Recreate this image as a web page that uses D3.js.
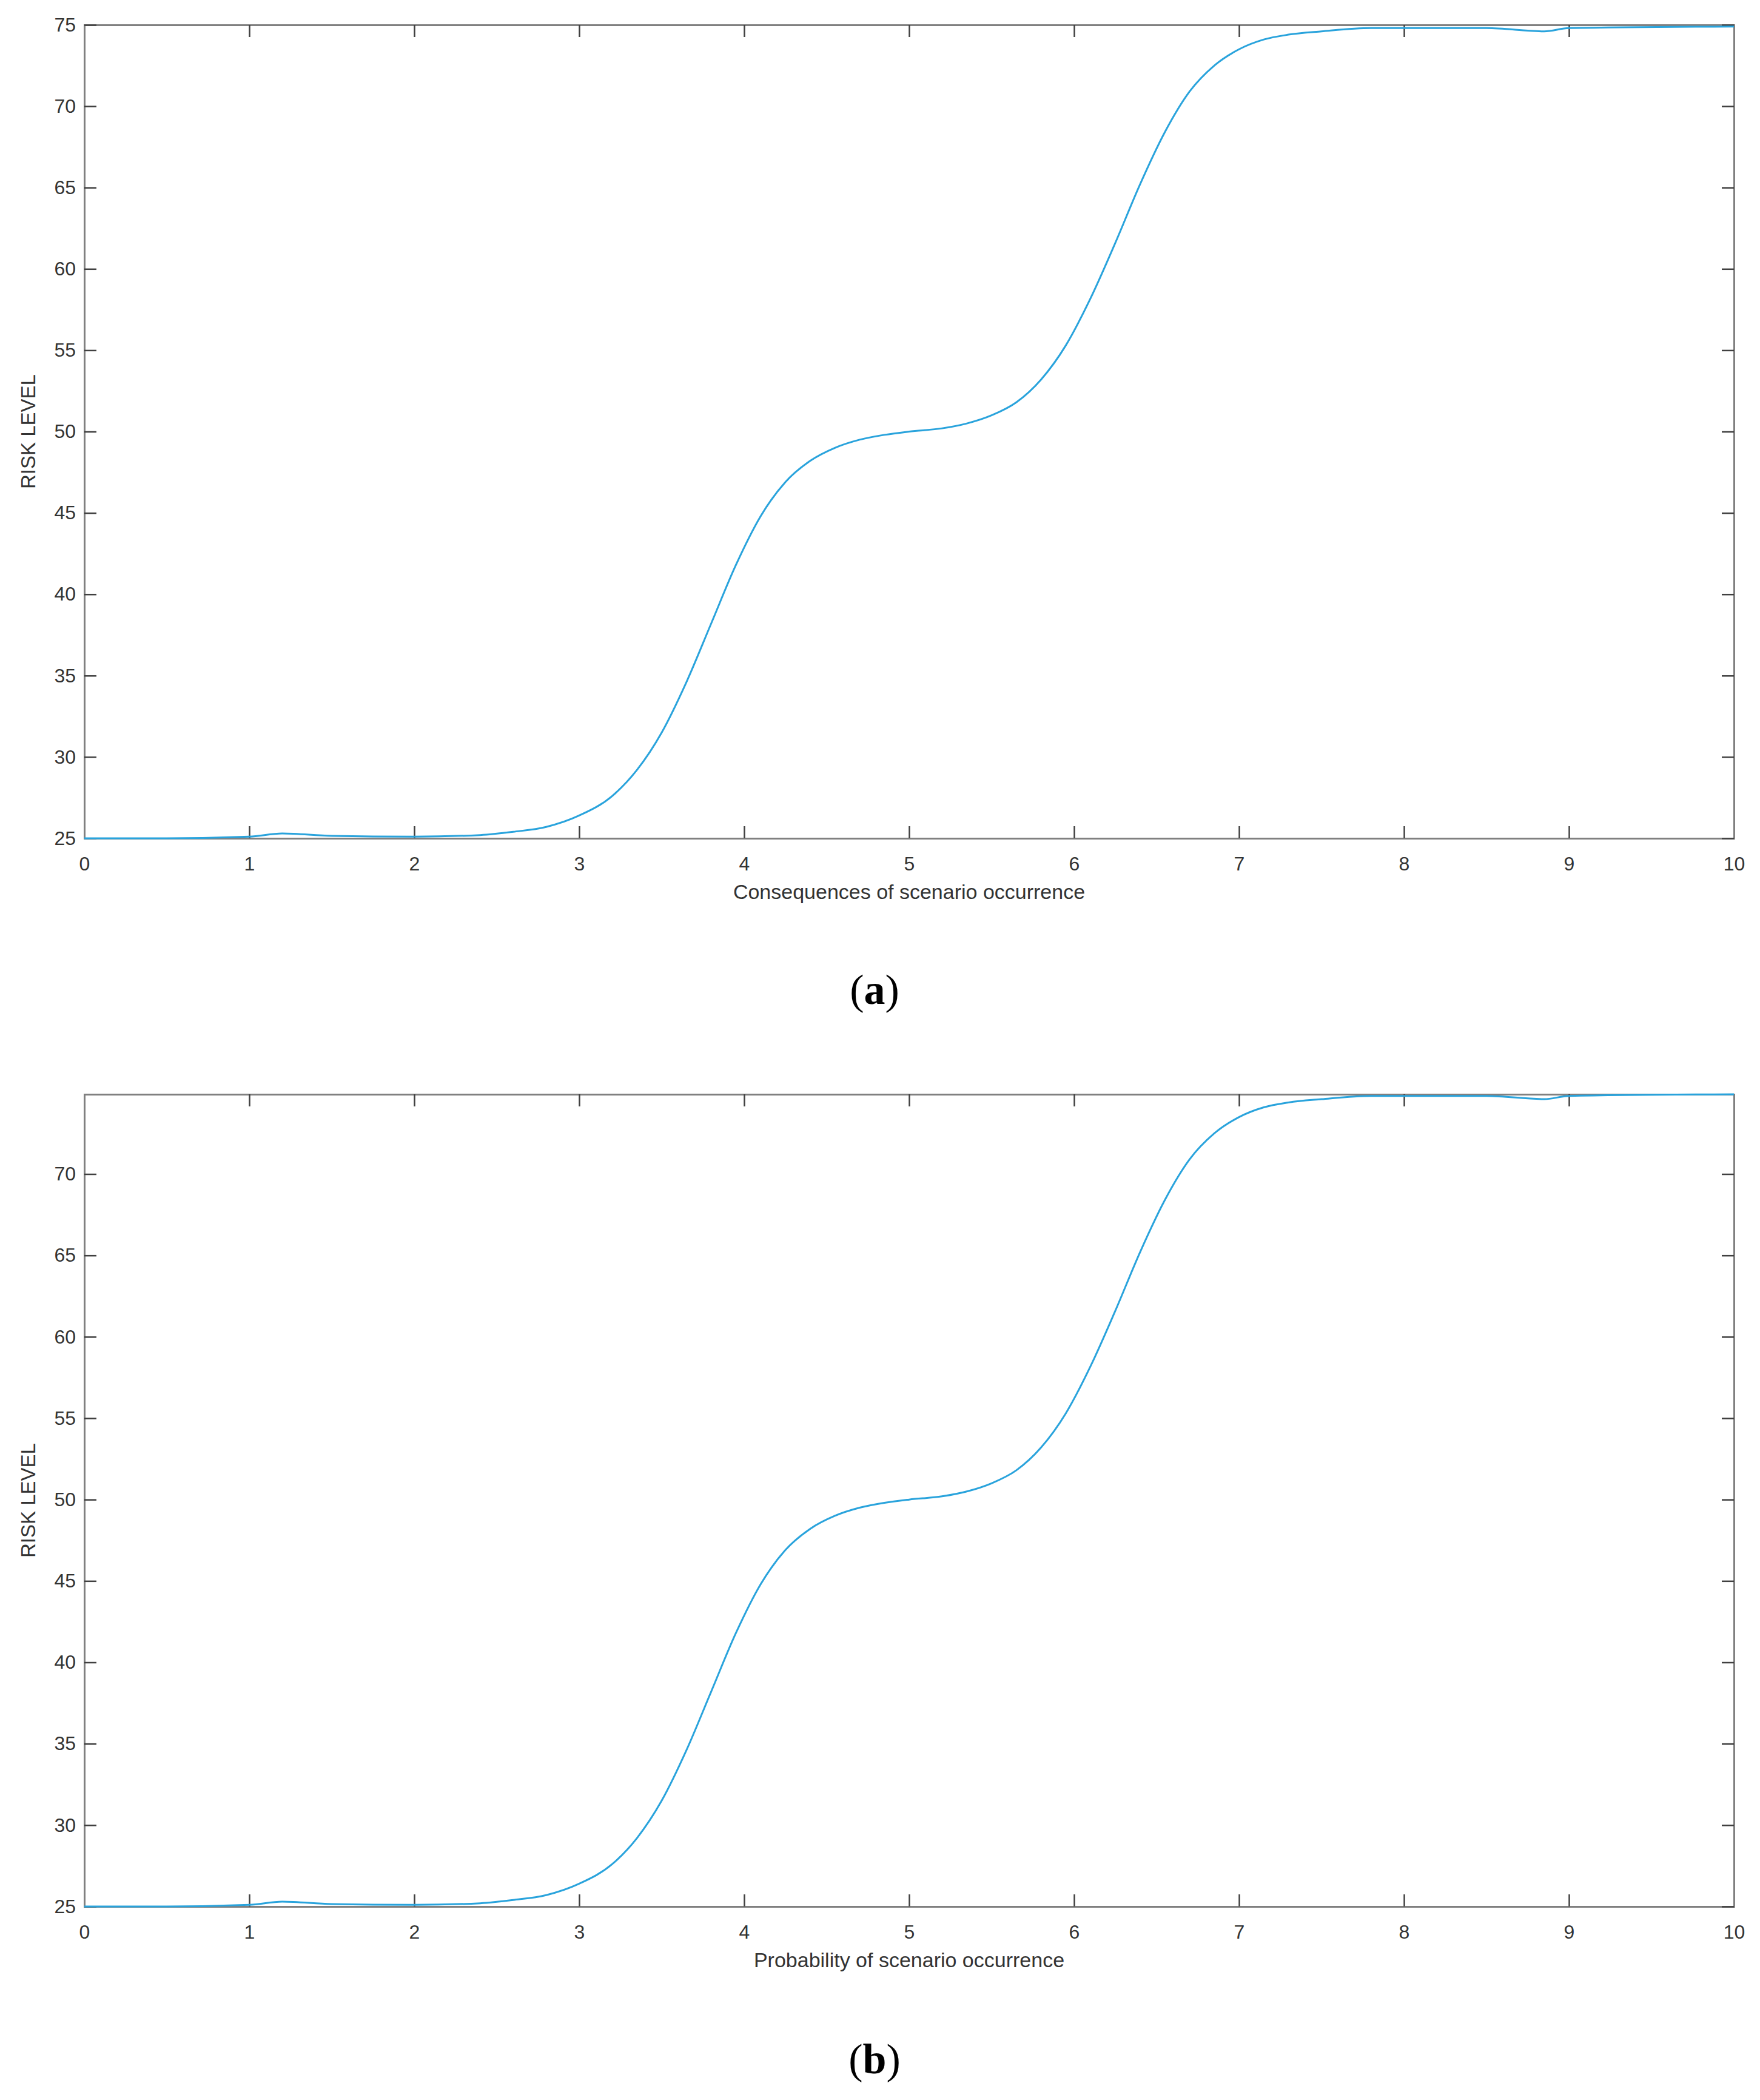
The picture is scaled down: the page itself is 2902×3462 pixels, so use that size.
<!DOCTYPE html>
<html><head><meta charset="utf-8">
<script src="https://cdn.jsdelivr.net/npm/d3@7"></script>
<style>body{margin:0;background:#fff}</style>
</head><body>
<script>
// risk level curve
var xs = [0,0.5,1,1.2,1.5,2,2.4,2.6,2.8,3,3.2,3.35,3.5,3.65,3.8,3.95,4.1,4.25,4.4,4.55,4.7,4.85,5,5.2,5.35,5.5,5.65,5.8,5.95,6.1,6.25,6.4,6.55,6.7,6.85,7,7.15,7.3,7.5,7.8,8.5,8.85,9,10];
var risk = [25,25,25.1,25.3,25.15,25.1,25.2,25.4,25.7,26.4,27.6,29.2,31.5,34.6,38.2,41.8,44.8,46.9,48.2,49,49.5,49.8,50,50.2,50.5,51,51.8,53.2,55.3,58.2,61.6,65.2,68.4,70.9,72.5,73.5,74.1,74.4,74.6,74.8,74.8,74.6,74.8,74.9];
var xTicks = [0,1,2,3,4,5,6,7,8,9,10];
var panels = [
  {top:41, bottom:1382, ymax:75, yTicks:[25,30,35,40,45,50,55,60,65,70,75], xlabel:"Consequences of scenario occurrence", tag:"a", tagY:1655},
  {top:1804, bottom:3143, ymax:74.9, yTicks:[25,30,35,40,45,50,55,60,65,70], xlabel:"Probability of scenario occurrence", tag:"b", tagY:3418}
];
var W = 2902, H = 3462, left = 139, right = 2859;

var svg = d3.select("body").append("svg").attr("width", W).attr("height", H);

panels.forEach(function(p){
  var x = d3.scaleLinear().domain([0,10]).range([left,right]);
  var y = d3.scaleLinear().domain([25,p.ymax]).range([p.bottom,p.top]);
  var g = svg.append("g");
  var tl = 20;
  var axes = [
    [d3.axisBottom(x).tickValues(xTicks).tickSize(-tl), p.bottom, 0],
    [d3.axisTop(x).tickValues(xTicks).tickSize(-tl).tickFormat(""), p.top, 0],
    [d3.axisLeft(y).tickValues(p.yTicks).tickSize(-tl), 0, left],
    [d3.axisRight(y).tickValues(p.yTicks).tickSize(-tl).tickFormat(""), 0, right]
  ];
  axes.forEach(function(a){
    var ag = g.append("g").attr("transform","translate("+a[2]+","+a[1]+")").call(a[0]);
    ag.select(".domain").attr("stroke","#808080").attr("stroke-width",3);
    ag.selectAll(".tick line").attr("stroke","#404040").attr("stroke-width",2.5);
    ag.selectAll(".tick text").attr("font-family","Liberation Sans, Arial, sans-serif")
      .attr("font-size",32).attr("fill","#333");
  });
  g.selectAll(".tick text").each(function(){
    var t = d3.select(this);
    if (t.attr("y") && +t.attr("y") > 0) t.attr("y", 30);
    if (t.attr("x") && +t.attr("x") < 0) t.attr("x", -14);
  });

  g.append("path").datum(xs.map(function(v,i){return [v,risk[i]];}))
    .attr("fill","none").attr("stroke","#29a3dc").attr("stroke-width",3)
    .attr("d", d3.line().curve(d3.curveMonotoneX).x(function(d){return x(d[0]);}).y(function(d){return y(d[1]);}));

  g.append("text").attr("x",(left+right)/2).attr("y",p.bottom+100)
    .attr("text-anchor","middle").attr("font-family","Liberation Sans, Arial, sans-serif")
    .attr("font-size",34).attr("fill","#333").text(p.xlabel);
  g.append("text").attr("transform","translate(58,"+(p.top+p.bottom)/2+") rotate(-90)")
    .attr("text-anchor","middle").attr("font-family","Liberation Sans, Arial, sans-serif")
    .attr("font-size",33).attr("fill","#333").text("RISK LEVEL");

  var t = g.append("text").attr("x",1442).attr("y",p.tagY)
    .attr("text-anchor","middle").attr("font-family","Liberation Serif, serif")
    .attr("font-size",70).attr("fill","#000");
  t.append("tspan").text("(");
  t.append("tspan").attr("font-weight","bold").text(p.tag);
  t.append("tspan").text(")");
});
</script>
</body></html>
